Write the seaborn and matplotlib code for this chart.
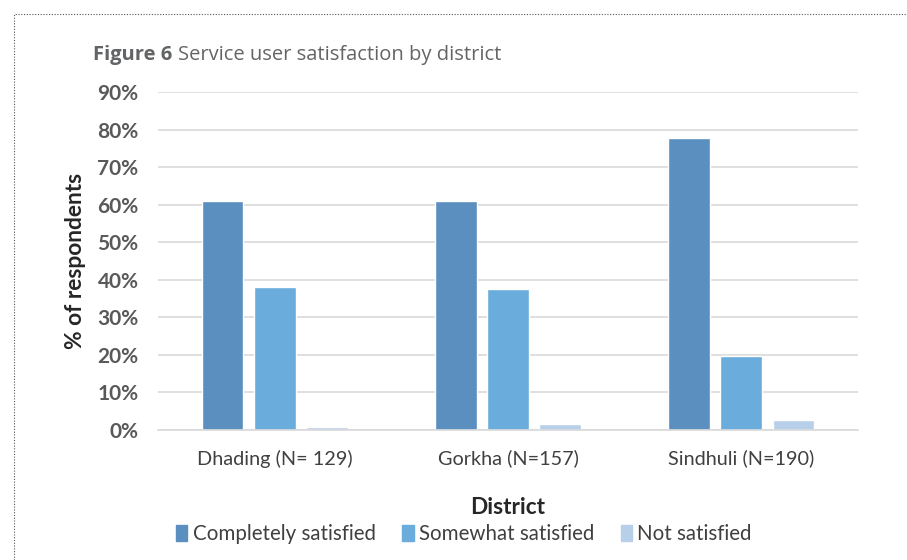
import pandas as pd
import seaborn as sns
import matplotlib.pyplot as plt
from matplotlib.patches import Rectangle
from matplotlib.ticker import PercentFormatter

districts = ["Dhading (N= 129)", "Gorkha (N=157)", "Sindhuli (N=190)"]
levels = ["Completely satisfied", "Somewhat satisfied", "Not satisfied"]
completely = [61.0, 61.0, 77.8]
somewhat = [38.2, 37.5, 19.8]
not_sat = [0.8, 1.5, 2.6]

colors = ["#5A8FC0", "#6AACDC", "#B7CFE8"]

df = pd.DataFrame({
    "District": districts * 3,
    "level": [levels[0]] * 3 + [levels[1]] * 3 + [levels[2]] * 3,
    "pct": completely + somewhat + not_sat,
})

sns.set_theme(style="white")
plt.rcParams["font.family"] = ["Lato", "DejaVu Sans"]

fig = plt.figure(figsize=(9.07, 5.6), dpi=100)
W, H = 907, 560
ax = fig.add_axes([158 / W, 1 - 430 / H, 700 / W, 338 / H])

sns.barplot(data=df, x="District", y="pct", hue="level", hue_order=levels,
            palette=colors, width=0.67, gap=0.2, saturation=1, ax=ax,
            legend=False)

ax.set_ylim(0, 90)
ax.set_xlim(-0.5, 2.5)
ax.set_yticks(range(0, 91, 10))
ax.yaxis.set_major_formatter(PercentFormatter(decimals=0))
ax.yaxis.grid(True, color="#D9D9D9", linewidth=1.2)
ax.set_axisbelow(True)
for s in ["top", "right", "left"]:
    ax.spines[s].set_visible(False)
ax.spines["bottom"].set_color("#D9D9D9")
ax.spines["bottom"].set_linewidth(1.2)
ax.tick_params(axis="y", length=0, pad=14, labelsize=15, labelcolor="#595959")
ax.tick_params(axis="x", length=0, pad=14, labelsize=14.3, labelcolor="#404040")
for t in ax.get_yticklabels():
    t.set_fontweight("bold")
ax.set_ylabel("% of respondents", fontsize=16.4, fontweight="bold", color="#262626", labelpad=8)
ax.set_xlabel("District", fontsize=16.3, fontweight="bold", color="#262626", labelpad=21)

handles = [Rectangle((0, 0), 1, 1, color=c) for c in colors]
fig.legend(handles, levels, loc="center", bbox_to_anchor=(464 / W, 1 - 534 / H),
           ncol=3, frameon=False, fontsize=14.8, handlelength=0.55, handleheight=0.8,
           handletextpad=0.25, columnspacing=1.3, labelcolor="#404040")

fig.text(93 / W, 1 - 55 / H, "Figure 6", fontsize=14.5, fontweight="bold",
         color="#636466", va="center", family=["Open Sans", "DejaVu Sans"])
fig.text(178 / W, 1 - 55 / H, "Service user satisfaction by district", fontsize=14.5,
         color="#636466", va="center", family=["Open Sans", "DejaVu Sans"])

fig.add_artist(Rectangle((14 / W, -0.1), 1.2, 1 - 14 / H + 0.1, transform=fig.transFigure,
                         fill=False, linestyle=(0, (1, 1.5)), linewidth=0.8,
                         edgecolor="#555555"))

fig.savefig("out.png", dpi=100)
